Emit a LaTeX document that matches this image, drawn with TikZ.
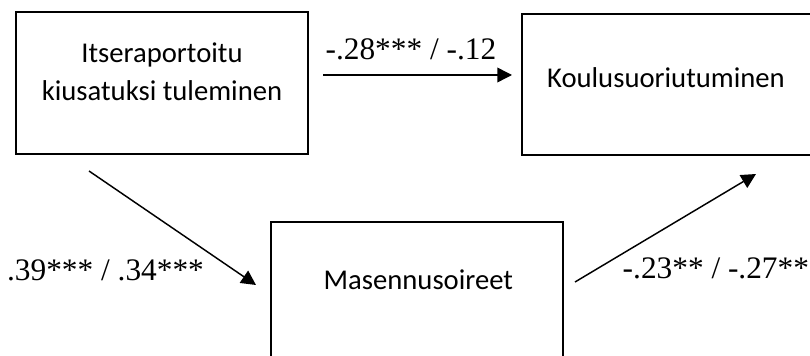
\documentclass[tikz,border=0pt]{standalone}
\usepackage{fontspec}
\setmainfont{Liberation Serif}
\newfontfamily\boxfont{Carlito}
\usetikzlibrary{positioning,arrows.meta}

\begin{document}
\begin{tikzpicture}[x=0.75pt, y=-0.75pt, line width=1.1pt,
	box/.style={draw, line width=1.5pt, minimum width=219pt, minimum height=106.5pt},
	boxtext/.style={font=\boxfont\fontsize{21.5}{28.5}\selectfont, align=center, inner sep=0pt},
	coef/.style={font=\fontsize{23.5}{28}\selectfont, inner sep=0pt},
	>={Triangle[length=11pt, width=11pt]}]
	\useasboundingbox (0,0) rectangle (810,356);

	\node[box] (L) at (162,83) {};
	\node[box, minimum width=231pt, minimum height=105.75pt] (K) at (676,84.5) {};
	\node[box] (M) at (417,293) {};

	\node[boxtext, below=23.25pt of L.north] (Ltext) {Itseraportoitu\\kiusatuksi tuleminen};
	\node[boxtext, below=40.5pt of K.north, xshift=-7.5pt] (Ktext) {Koulusuoriutuminen};
	\node[boxtext, below=36pt of M.north, xshift=1pt] (Mtext) {Masennusoireet};

	\draw[->] ([shift={(10.5pt,6pt)}]L.east) -- node[coef, above=11pt, pos=0.465] (c1) {-.28*** / -.12} ([shift={(-6.75pt,7.125pt)}]K.west);
	\draw[->] ([shift={(55.5pt,-12pt)}]L.south west) -- ([shift={(-10.5pt,6pt)}]M.west);
	\draw[->] ([shift={(8.25pt,8.25pt)}]M.east) -- ([shift={(176.25pt,-13.5pt)}]K.south west);

	\node[coef, anchor=base] (c2) at (105.5,280) {.39*** / .34***};
	\node[coef, anchor=base west] (c3) at (622,278) {-.23** / -.27**};
\end{tikzpicture}
\end{document}
